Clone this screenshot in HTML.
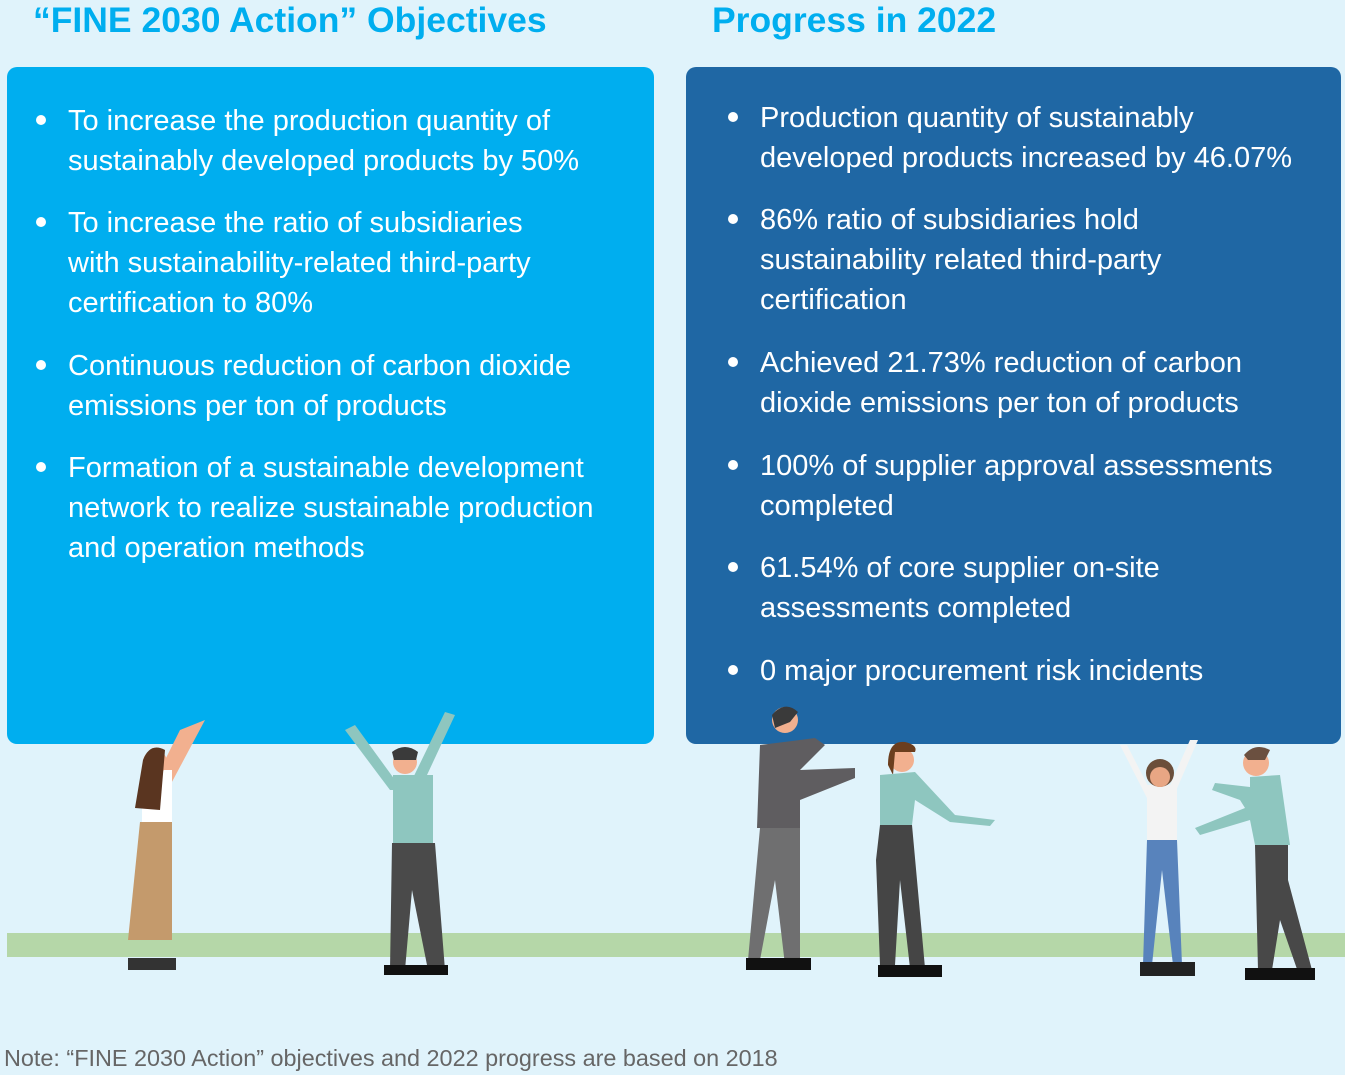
<!DOCTYPE html>
<html><head><meta charset="utf-8"><style>
body{margin:0;width:1345px;height:1075px;background:#e0f3fb;position:relative;overflow:hidden;font-family:"Liberation Sans",sans-serif}
.t{position:absolute;top:0px;font-weight:bold;font-size:35.5px;color:#00aeef;letter-spacing:0px}
.box{position:absolute;top:67px;height:677px;border-radius:10px}
.l{position:absolute;color:#fff;font-size:29px;line-height:40px;white-space:nowrap;letter-spacing:0px}
.d{position:absolute;width:10px;height:10px;border-radius:50%;background:#fff}
.note{position:absolute;left:4px;top:1045px;font-size:23.4px;color:#666}
</style></head><body>
<div class="t" style="left:33px">“FINE 2030 Action” Objectives</div>
<div class="t" style="left:712px">Progress in 2022</div>
<div class="box" style="left:7px;width:647px;background:#00aeef"></div>
<div class="box" style="left:686px;width:655px;background:#1f67a4"></div>
<div style="position:absolute;left:7px;top:933px;width:1338px;height:24px;background:#b5d7a8"></div>

<div class="d" style="left:36px;top:115px"></div>
<div class="l" style="left:68px;top:101px">To increase the production quantity of<br>sustainably developed products by 50%</div>
<div class="d" style="left:36px;top:217px"></div>
<div class="l" style="left:68px;top:203px">To increase the ratio of subsidiaries<br>with sustainability-related third-party<br>certification to 80%</div>
<div class="d" style="left:36px;top:360px"></div>
<div class="l" style="left:68px;top:346px">Continuous reduction of carbon dioxide<br>emissions per ton of products</div>
<div class="d" style="left:36px;top:462px"></div>
<div class="l" style="left:68px;top:448px">Formation of a sustainable development<br>network to realize sustainable production<br>and operation methods</div>

<div class="d" style="left:728px;top:112px"></div>
<div class="l" style="left:760px;top:98px">Production quantity of sustainably<br>developed products increased by 46.07%</div>
<div class="d" style="left:728px;top:214px"></div>
<div class="l" style="left:760px;top:200px">86% ratio of subsidiaries hold<br>sustainability related third-party<br>certification</div>
<div class="d" style="left:728px;top:357px"></div>
<div class="l" style="left:760px;top:343px">Achieved 21.73% reduction of carbon<br>dioxide emissions per ton of products</div>
<div class="d" style="left:728px;top:460px"></div>
<div class="l" style="left:760px;top:446px">100% of supplier approval assessments<br>completed</div>
<div class="d" style="left:728px;top:562px"></div>
<div class="l" style="left:760px;top:548px">61.54% of core supplier on-site<br>assessments completed</div>
<div class="d" style="left:728px;top:665px"></div>
<div class="l" style="left:760px;top:651px">0 major procurement risk incidents</div>

<svg style="position:absolute;left:0;top:0" width="1345" height="1075">
<path d="M150 790 L180 730 L205 720 L165 795Z" fill="#f2b08f"/>
<rect x="142" y="770" width="30" height="55" fill="#fff"/>
<circle cx="155" cy="762" r="12" fill="#f2b08f"/><path d="M143 760 Q150 742 165 750 L160 810 L135 808Z" fill="#5a3520"/>
<path d="M140 822 L172 822 L172 940 L128 940Z" fill="#c49a6c"/>
<rect x="128" y="958" width="48" height="12" fill="#333"/>
<path d="M345 730 L390 790 L420 790 L455 715 L445 712 L412 780 L395 780 L355 725Z" fill="#8ec6bf"/>
<rect x="393" y="775" width="40" height="68" fill="#8ec6bf"/>
<circle cx="405" cy="762" r="12" fill="#f2b08f"/><path d="M392 752 Q405 742 418 752 L416 760 L394 760Z" fill="#3a3a3a"/>
<path d="M392 843 L435 843 L445 970 L428 970 L412 890 L405 970 L390 970Z" fill="#4a4a4a"/>
<rect x="384" y="965" width="64" height="10" fill="#111"/>
<circle cx="785" cy="720" r="13" fill="#f2b08f"/><path d="M772 715 Q785 700 798 712 L790 722 L775 728Z" fill="#3a3a3a"/>
<path d="M760 745 L800 740 L815 738 L825 745 L800 770 L855 768 L855 778 L800 800 L800 828 L757 828Z" fill="#5f5d60"/>
<path d="M760 828 L800 828 L800 965 L785 965 L775 880 L760 960 L748 960Z" fill="#6f6f70"/>
<rect x="746" y="958" width="65" height="12" fill="#111"/>
<circle cx="902" cy="760" r="12" fill="#f2b08f"/><path d="M888 765 Q888 740 905 742 Q918 745 915 752 L895 752 L893 775Z" fill="#6b3e1e"/>
<path d="M880 775 L915 772 L955 815 L995 820 L990 826 L950 822 L915 800 L912 825 L880 825Z" fill="#8ec6bf"/>
<path d="M880 825 L912 825 L925 968 L910 968 L900 880 L895 965 L880 965 L876 860Z" fill="#454545"/>
<rect x="878" y="965" width="64" height="12" fill="#111"/>
<path d="M1120 745 L1148 800 L1172 800 L1198 740 L1190 740 L1168 790 L1150 790 L1127 745Z" fill="#f3f3f3"/>
<rect x="1147" y="785" width="30" height="55" fill="#f3f3f3"/>
<circle cx="1160" cy="773" r="14" fill="#6b4e3a"/><circle cx="1160" cy="777" r="10" fill="#e8a684"/>
<path d="M1147 840 L1177 840 L1182 965 L1173 965 L1162 870 L1152 965 L1143 965Z" fill="#5883bc"/>
<rect x="1140" y="962" width="55" height="14" fill="#222"/>
<circle cx="1256" cy="763" r="13" fill="#f2b08f"/><path d="M1244 755 Q1255 742 1270 750 L1265 760 L1248 760Z" fill="#6b5040"/>
<path d="M1250 777 L1280 775 L1290 845 L1255 845 L1250 820 L1200 835 L1195 828 L1245 808 L1240 800 L1212 790 L1215 783 L1250 787Z" fill="#8ec6bf"/>
<path d="M1255 845 L1288 845 L1288 880 L1312 970 L1298 972 L1280 920 L1272 970 L1258 970Z" fill="#484848"/>
<rect x="1245" y="968" width="70" height="12" fill="#111"/>
</svg>
<div class="note">Note: “FINE 2030 Action” objectives and 2022 progress are based on 2018</div>
</body></html>
